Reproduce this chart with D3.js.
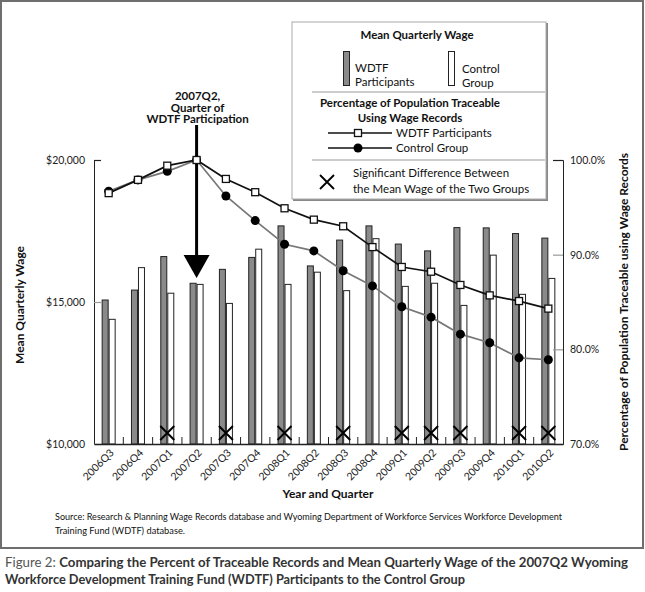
<!DOCTYPE html>
<html>
<head>
<meta charset="utf-8">
<script src="https://cdn.jsdelivr.net/npm/d3@7"></script>
<style>
  html, body { margin: 0; padding: 0; background: #fff; }
  svg { display: block; font-family: Lato, "Open Sans", sans-serif; }
</style>
</head>
<body>
<script>
// ---- data ----
const categories = ["2006Q3","2006Q4","2007Q1","2007Q2","2007Q3","2007Q4","2008Q1","2008Q2","2008Q3","2008Q4","2009Q1","2009Q2","2009Q3","2009Q4","2010Q1","2010Q2"];
const wageWDTF    = [15070,15420,16600,15660,16150,16570,17680,16270,17180,17680,17040,16800,17620,17610,17410,17250];
const wageControl = [14390,16210,15310,15620,14950,16860,15620,16050,15400,17230,15550,15660,14880,16650,15270,15830];
const pctWDTF     = [96.5,97.9,99.4,100.0,98.0,96.6,94.9,93.7,93.0,90.8,88.7,88.2,86.8,85.7,85.1,84.3];
const pctControl  = [96.7,97.9,98.8,100.0,96.2,93.6,91.1,90.4,88.3,86.7,84.5,83.4,81.6,80.7,79.1,78.9];
const sigDiff     = ["2007Q1","2007Q3","2008Q1","2008Q3","2009Q1","2009Q2","2009Q3","2010Q1","2010Q2"];
const wageTicks   = [10000,15000,20000];
const pctTicks    = [70,80,90,100];
const participationQuarter = "2007Q2";

(function () {
// ---- setup ----
const W = 645, H = 592;
const svg = d3.select("body").append("svg").attr("width", W).attr("height", H);

const pL = 94, pR = 563, pT = 160, pB = 444;
const x = d3.scaleBand().domain(categories).range([pL, pR]);
const xSub = d3.scaleBand().domain(["WDTF","Control"]).range([-7, 7]);
const yWage = d3.scaleLinear().domain([10000, 20000]).range([pB, pT]);
const yPct = d3.scaleLinear().domain([70, 100]).range([pB, pT]);
const cx = c => x(c) + x.bandwidth() / 2;

// outer frame
svg.append("rect").attr("x", 1).attr("y", 1).attr("width", 642).attr("height", 547)
  .attr("fill", "none").attr("stroke", "#6e6e6e").attr("stroke-width", 2);

// bars
const barData = categories.map((c, i) => ({c, WDTF: wageWDTF[i], Control: wageControl[i]}));
const g = svg.append("g");
const groups = g.selectAll("g.bar").data(barData).join("g").attr("class", "bar")
  .attr("transform", d => `translate(${cx(d.c)},0)`);
groups.selectAll("rect").data(d => [{k:"WDTF", v:d.WDTF}, {k:"Control", v:d.Control}]).join("rect")
  .attr("x", d => xSub(d.k) + 0.5)
  .attr("width", xSub.bandwidth() - 1)
  .attr("y", d => yWage(d.v))
  .attr("height", d => pB - yWage(d.v))
  .attr("fill", d => d.k === "WDTF" ? "#8a8a8a" : "#fff")
  .attr("stroke", "#222").attr("stroke-width", 1);

// axes
const axL = svg.append("g").attr("transform", `translate(${pL},0)`)
  .call(d3.axisLeft(yWage).tickValues(wageTicks).tickSize(-7).tickPadding(9)
    .tickFormat(d => "$" + d3.format(",")(d)));
axL.select(".domain").attr("stroke", "#222");
axL.selectAll(".tick line").attr("stroke", (d) => d === 20000 ? "#222" : "#999").attr("stroke-width", 1.2);
axL.selectAll(".tick text").attr("font-size", 10.5).attr("fill", "#222").attr("font-family", "Lato");

const axR = svg.append("g").attr("transform", `translate(${pR},0)`)
  .call(d3.axisRight(yPct).tickValues(pctTicks).tickSize(-10).tickPadding(7)
    .tickFormat(d => d.toFixed(1) + "%"));
axR.select(".domain").attr("stroke", "#222");
axR.selectAll(".tick line").attr("stroke", (d) => d === 100 ? "#222" : "#999").attr("stroke-width", 1.2);
axR.selectAll(".tick text").attr("font-size", 10.5).attr("fill", "#222").attr("font-family", "Lato");

const axB = svg.append("g").attr("transform", `translate(0,${pB})`)
  .call(d3.axisBottom(x).tickSize(0).tickPadding(0));
axB.select(".domain").attr("stroke", "#222").attr("stroke-width", 1.3);
axB.selectAll(".tick text")
  .attr("font-size", 10.5).attr("fill", "#222").attr("font-family", "Lato")
  .attr("text-anchor", "end").attr("dy", 0).attr("y", 0)
  .attr("transform", "translate(6,9.5) rotate(-45)");
// boundary ticks (inward)
svg.append("g").selectAll("line").data(categories.slice(1)).join("line")
  .attr("x1", d => x(d)).attr("x2", d => x(d))
  .attr("y1", pB).attr("y2", pB - 7)
  .attr("stroke", "#222").attr("stroke-width", 1);

// arrow
const ax = cx(participationQuarter);
svg.append("line").attr("x1", ax).attr("x2", ax).attr("y1", 125).attr("y2", 258)
  .attr("stroke", "#000").attr("stroke-width", 3);
svg.append("path").attr("d", `M${ax-13},255 L${ax+13},255 L${ax},278 Z`).attr("fill", "#000");
const ann = svg.append("text").attr("text-anchor", "middle").attr("font-weight", "bold")
  .attr("font-size", 11.5).attr("fill", "#111");
[["2007Q2,",100],["Quarter of",111.5],["WDTF Participation",123]].forEach(([t,y]) =>
  ann.append("tspan").attr("x", ax + 1).attr("y", y).text(t));

// lines
const lineGen = (arr) => d3.line().x((d, i) => cx(categories[i])).y(d => yPct(d))(arr);
svg.append("path").attr("d", lineGen(pctControl)).attr("fill", "none")
  .attr("stroke", "#777").attr("stroke-width", 1.7);
svg.append("path").attr("d", lineGen(pctWDTF)).attr("fill", "none")
  .attr("stroke", "#111").attr("stroke-width", 1.7);
svg.append("g").selectAll("circle").data(pctControl).join("circle")
  .attr("cx", (d, i) => cx(categories[i])).attr("cy", d => yPct(d)).attr("r", 4.5).attr("fill", "#000");
svg.append("g").selectAll("rect").data(pctWDTF).join("rect")
  .attr("x", (d, i) => cx(categories[i]) - 3.5).attr("y", d => yPct(d) - 3.5)
  .attr("width", 7).attr("height", 7).attr("fill", "#fff").attr("stroke", "#111").attr("stroke-width", 1.3);

// significance X markers
const xm = svg.append("g");
sigDiff.forEach(c => {
  const px = cx(c), py = 433, s = 7;
  xm.append("path").attr("d", `M${px-s},${py-s} L${px+s},${py+s} M${px+s},${py-s} L${px-s},${py+s}`)
    .attr("stroke", "#000").attr("stroke-width", 2).attr("fill", "none");
});

// axis titles
svg.append("text").attr("transform", "translate(24,305) rotate(-90)").attr("text-anchor", "middle")
  .attr("font-weight", "bold").attr("font-size", 12).attr("fill", "#111").text("Mean Quarterly Wage");
svg.append("text").attr("transform", "translate(628,302) rotate(-90)").attr("text-anchor", "middle")
  .attr("font-weight", "bold").attr("font-size", 12).attr("fill", "#111")
  .text("Percentage of Population Traceable using Wage Records");
svg.append("text").attr("x", 328).attr("y", 498).attr("text-anchor", "middle")
  .attr("font-weight", "bold").attr("font-size", 12).attr("fill", "#111").text("Year and Quarter");

// legend
const lg = svg.append("g");
lg.append("rect").attr("x", 293).attr("y", 23).attr("width", 255).attr("height", 178).attr("fill", "#888");
lg.append("rect").attr("x", 292).attr("y", 22).attr("width", 254).attr("height", 177)
  .attr("fill", "#fff").attr("stroke", "#aaa").attr("stroke-width", 1);
lg.append("text").attr("x", 417).attr("y", 39).attr("text-anchor", "middle").attr("font-weight", "bold")
  .attr("font-size", 11.5).attr("fill", "#111").text("Mean Quarterly Wage");
lg.append("rect").attr("x", 343.5).attr("y", 51.5).attr("width", 6).attr("height", 34)
  .attr("fill", "#8a8a8a").attr("stroke", "#222");
lg.append("rect").attr("x", 448.5).attr("y", 51.5).attr("width", 6).attr("height", 34)
  .attr("fill", "#fff").attr("stroke", "#222");
const t1 = lg.append("text").attr("font-size", 11.5).attr("fill", "#111");
t1.append("tspan").attr("x", 355).attr("y", 72).text("WDTF");
t1.append("tspan").attr("x", 355).attr("y", 86).text("Participants");
const t2 = lg.append("text").attr("font-size", 11.5).attr("fill", "#111");
t2.append("tspan").attr("x", 462).attr("y", 73).text("Control");
t2.append("tspan").attr("x", 462).attr("y", 87).text("Group");
lg.append("line").attr("x1", 312).attr("x2", 545).attr("y1", 92).attr("y2", 92).attr("stroke", "#bbb").attr("stroke-width", 1.5);
const t3 = lg.append("text").attr("text-anchor", "middle").attr("font-weight", "bold").attr("font-size", 11.5).attr("fill", "#111");
t3.append("tspan").attr("x", 410).attr("y", 107).text("Percentage of Population Traceable");
t3.append("tspan").attr("x", 410).attr("y", 122).text("Using Wage Records");
lg.append("line").attr("x1", 328).attr("x2", 392).attr("y1", 133).attr("y2", 133).attr("stroke", "#111").attr("stroke-width", 1.5);
lg.append("rect").attr("x", 354.5).attr("y", 129.5).attr("width", 7).attr("height", 7).attr("fill", "#fff").attr("stroke", "#111").attr("stroke-width", 1.3);
lg.append("line").attr("x1", 328).attr("x2", 392).attr("y1", 148).attr("y2", 148).attr("stroke", "#111").attr("stroke-width", 1.5);
lg.append("circle").attr("cx", 358).attr("cy", 148).attr("r", 4.5).attr("fill", "#000");
lg.append("text").attr("x", 396).attr("y", 137).attr("font-size", 11.5).attr("fill", "#111").text("WDTF Participants");
lg.append("text").attr("x", 396).attr("y", 152).attr("font-size", 11.5).attr("fill", "#111").text("Control Group");
lg.append("line").attr("x1", 312).attr("x2", 545).attr("y1", 160).attr("y2", 160).attr("stroke", "#bbb").attr("stroke-width", 1.5);
lg.append("path").attr("d", "M320,175 L334,189 M334,175 L320,189").attr("stroke", "#000").attr("stroke-width", 1.8);
const t4 = lg.append("text").attr("font-size", 11.5).attr("fill", "#111");
t4.append("tspan").attr("x", 353).attr("y", 177).text("Significant Difference Between");
t4.append("tspan").attr("x", 353).attr("y", 193).text("the Mean Wage of the Two Groups");

// source
const src = svg.append("text").attr("font-size", 10).attr("fill", "#111");
src.append("tspan").attr("x", 55).attr("y", 520).attr("textLength", 507).attr("lengthAdjust", "spacingAndGlyphs")
  .text("Source: Research & Planning Wage Records database and Wyoming Department of Workforce Services Workforce Development");
src.append("tspan").attr("x", 55).attr("y", 534).attr("textLength", 130).attr("lengthAdjust", "spacingAndGlyphs")
  .text("Training Fund (WDTF) database.");

// caption
const cap1 = svg.append("text").attr("x", 5).attr("y", 567).attr("font-size", 13).attr("fill", "#333")
  .attr("textLength", 623).attr("lengthAdjust", "spacingAndGlyphs");
cap1.append("tspan").attr("fill", "#555").text("Figure 2: ");
cap1.append("tspan").attr("font-weight", "bold").text("Comparing the Percent of Traceable Records and Mean Quarterly Wage of the 2007Q2 Wyoming");
svg.append("text").attr("x", 5).attr("y", 584).attr("font-size", 13).attr("fill", "#333").attr("font-weight", "bold")
  .attr("textLength", 460).attr("lengthAdjust", "spacingAndGlyphs")
  .text("Workforce Development Training Fund (WDTF) Participants to the Control Group");
})();
</script>
</body>
</html>
